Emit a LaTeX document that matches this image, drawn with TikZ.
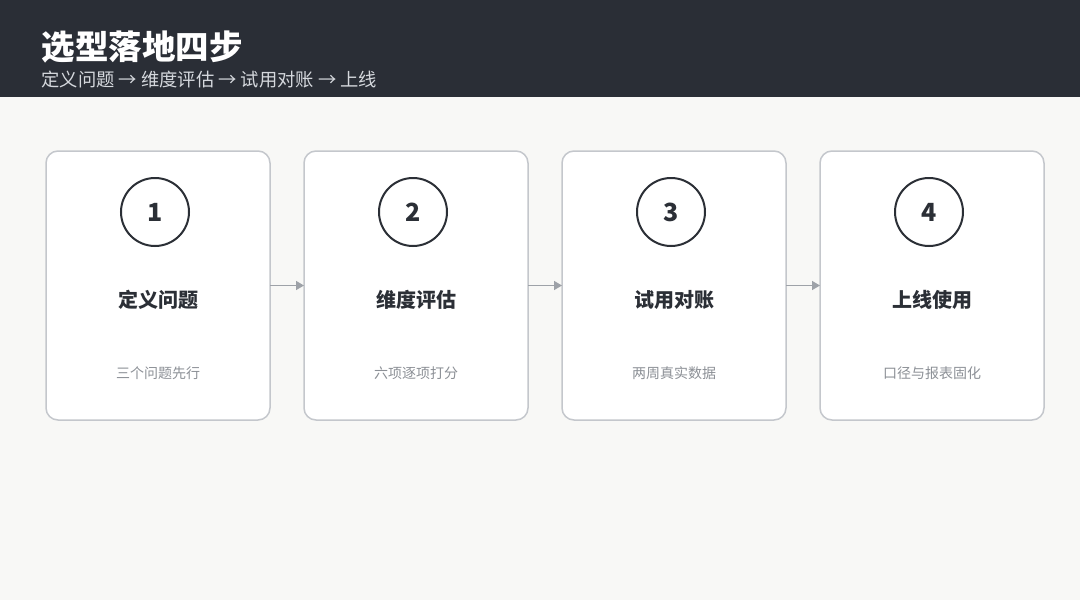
\documentclass[tikz,border=0pt]{standalone}
\usepackage{fontspec}
\setmainfont{Noto Sans CJK SC}
\usetikzlibrary{arrows.meta}
\usetikzlibrary{positioning}
\definecolor{headbg}{HTML}{2A2E36}
\definecolor{pagebg}{HTML}{F8F8F6}
\definecolor{cardline}{HTML}{C4C7CC}
\definecolor{darktext}{HTML}{2B2F36}
\definecolor{greytext}{HTML}{8C9096}
\definecolor{headsub}{HTML}{D5D8DD}
\definecolor{arrowgrey}{HTML}{9EA2A8}
\tikzset{
	card/.style={
			rectangle, rounded corners=12pt, draw=cardline, line width=1.5pt,
			fill=white, minimum width=224pt, minimum height=269pt, inner sep=0pt, outer sep=0pt},
	numcirc/.style={
			circle, draw=darktext, line width=2pt, minimum size=68pt, inner sep=0pt,
			font=\fontsize{25}{25}\selectfont\bfseries, text=darktext},
	steptitle/.style={font=\fontsize{20}{20}\selectfont\bfseries, text=darktext},
	stepnote/.style={font=\fontsize{14}{14}\selectfont, text=greytext},
	flow/.style={draw=arrowgrey, line width=1.5pt, -{Triangle[length=8pt, width=9pt]}},
		}
\newcommand{\stepnum}[1]{\raisebox{-3pt}{#1}}

\begin{document}
\begin{tikzpicture} [x=1pt, y=-1pt]

	 	% background and header
	 	\fill[pagebg] (0,0) rectangle (1080,600);
	 	\fill[headbg] (0,0) rectangle (1080,97);
	 	\node[anchor=west, text=white, font=\fontsize{33.5}{33.5}\selectfont\bfseries] (title)
	 		at (38,47.5) {选型落地四步};
	 	\node[anchor=west, text=headsub, font=\fontsize{18.3}{18.3}\selectfont] (subtitle)
	 		at (38,80) {定义问题 → 维度评估 → 试用对账 → 上线};

	 	% cards
	 	\node[card] (card1) at (158,285.5) {};
	 	\node[card, right=34pt of card1] (card2) {};
	 	\node[card, right=34pt of card2] (card3) {};
	 	\node[card, right=34pt of card3] (card4) {};

	 	\node[numcirc, below=26pt of card1.north, xshift=-3pt] (num1) {\stepnum{1}};
	 	\node[numcirc, below=26pt of card2.north, xshift=-3pt] (num2) {\stepnum{2}};
	 	\node[numcirc, below=26pt of card3.north, xshift=-3pt] (num3) {\stepnum{3}};
	 	\node[numcirc, below=26pt of card4.north, xshift=-3pt] (num4) {\stepnum{4}};

	 	\node[steptitle] (name1) at ([yshift=-149pt]card1.north) {定义问题};
	 	\node[steptitle] (name2) at ([yshift=-149pt]card2.north) {维度评估};
	 	\node[steptitle] (name3) at ([yshift=-149pt]card3.north) {试用对账};
	 	\node[steptitle] (name4) at ([yshift=-149pt]card4.north) {上线使用};

	 	\node[stepnote] (note1) at ([yshift=-222pt]card1.north) {三个问题先行};
	 	\node[stepnote] (note2) at ([yshift=-222pt]card2.north) {六项逐项打分};
	 	\node[stepnote] (note3) at ([yshift=-222pt]card3.north) {两周真实数据};
	 	\node[stepnote] (note4) at ([yshift=-222pt]card4.north) {口径与报表固化};

	 	% arrows
	 	\draw[flow] (card1) -- (card2);
	 	\draw[flow] (card2) -- (card3);
	 	\draw[flow] (card3) -- (card4);
%
	 	\end{tikzpicture}
\end{document}
